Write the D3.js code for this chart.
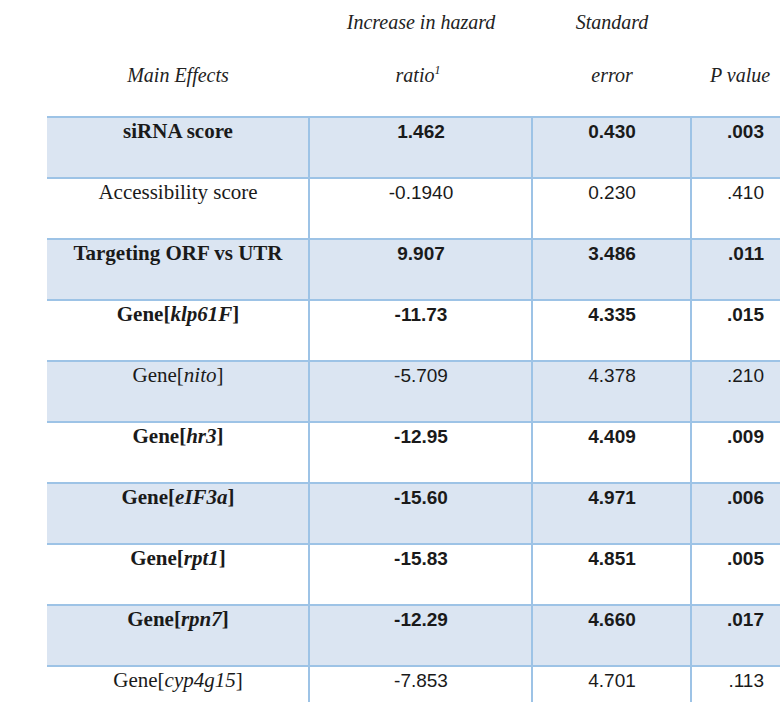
<!DOCTYPE html>
<html>
<head>
  <meta charset='utf-8'>
  <script src='https://cdn.jsdelivr.net/npm/d3@7/dist/d3.min.js'></script>
  <style>
    body { margin: 0; background: #fff; }
  </style>
</head>
<body>
  <div id='table'></div>
  <script>
    // row labels: [plain prefix, italic gene, closing]
    var effects = [
      ['siRNA score', '', ''],
      ['Accessibility score', '', ''],
      ['Targeting ORF vs UTR', '', ''],
      ['Gene[', 'klp61F', ']'],
      ['Gene[', 'nito', ']'],
      ['Gene[', 'hr3', ']'],
      ['Gene[', 'eIF3a', ']'],
      ['Gene[', 'rpt1', ']'],
      ['Gene[', 'rpn7', ']'],
      ['Gene[', 'cyp4g15', ']']
    ];
    var hazard = ['1.462', '-0.1940', '9.907', '-11.73', '-5.709', '-12.95', '-15.60', '-15.83', '-12.29', '-7.853'];
    var stdErr = ['0.430', '0.230', '3.486', '4.335', '4.378', '4.409', '4.971', '4.851', '4.660', '4.701'];
    var pValue = ['.003', '.410', '.011', '.015', '.210', '.009', '.006', '.005', '.017', '.113'];
    var significant = [true, false, true, true, false, true, true, true, true, false];

    var width = 780, height = 711;
    var svg = d3.select('#table').append('svg')
      .attr('width', width).attr('height', height);

    var y = d3.scaleBand().domain(d3.range(effects.length)).range([117, 727]);
    var left = 47, right = 780;
    var cols = [left, 309, 532, 691, right];
    var blue = '#9dc3e6', shade = '#dbe5f2';
    var serif = 'Liberation Serif, Times New Roman, serif';
    var sans = 'Liberation Sans, Arial, sans-serif';

    // shaded rows
    svg.selectAll('rect.row').data(effects).enter().append('rect')
      .attr('x', left).attr('y', function(d, i) { return y(i); })
      .attr('width', right - left).attr('height', y.bandwidth())
      .attr('fill', function(d, i) { return i % 2 === 0 ? shade : '#fff'; });

    // grid lines
    svg.selectAll('line.h').data(d3.range(effects.length)).enter().append('line')
      .attr('x1', left).attr('x2', right)
      .attr('y1', function(i) { return y(i); }).attr('y2', function(i) { return y(i); })
      .attr('stroke', blue).attr('stroke-width', 2);
    svg.selectAll('line.v').data(cols.slice(1, 4)).enter().append('line')
      .attr('x1', function(d) { return d; }).attr('x2', function(d) { return d; })
      .attr('y1', 117).attr('y2', 702)
      .attr('stroke', blue).attr('stroke-width', 2);

    // header
    var hdr = svg.append('g').attr('font-family', serif).attr('font-style', 'italic')
      .attr('font-size', 20).attr('fill', '#222').attr('text-anchor', 'middle');
    hdr.append('text').attr('x', 178).attr('y', 82).text('Main Effects');
    hdr.append('text').attr('x', 421).attr('y', 29).text('Increase in hazard');
    var r = hdr.append('text').attr('x', 418).attr('y', 82).text('ratio');
    r.append('tspan').attr('font-size', 12).attr('dy', -8).text('1');
    hdr.append('text').attr('x', 612).attr('y', 29).text('Standard');
    hdr.append('text').attr('x', 612).attr('y', 82).text('error');
    hdr.append('text').attr('x', 740).attr('y', 82).text('P value');

    var rows = svg.selectAll('g.r').data(effects).enter().append('g')
      .attr('transform', function(d, i) { return 'translate(0,' + (y(i) + 21) + ')'; })
      .attr('font-weight', function(d, i) { return significant[i] ? 'bold' : 'normal'; })
      .attr('fill', '#1a1a1a');

    var lab = rows.append('text').attr('x', 178).attr('text-anchor', 'middle')
      .attr('font-family', serif).attr('font-size', 21);
    lab.append('tspan').text(function(d) { return d[0]; });
    lab.append('tspan').attr('font-style', 'italic').text(function(d) { return d[1]; });
    lab.append('tspan').text(function(d) { return d[2]; });

    rows.append('text').attr('x', 421).attr('text-anchor', 'middle')
      .attr('font-family', sans).attr('font-size', 19)
      .text(function(d, i) { return hazard[i]; });
    rows.append('text').attr('x', 612).attr('text-anchor', 'middle')
      .attr('font-family', sans).attr('font-size', 19)
      .text(function(d, i) { return stdErr[i]; });
    rows.append('text').attr('x', 764).attr('text-anchor', 'end')
      .attr('font-family', sans).attr('font-size', 19)
      .text(function(d, i) { return pValue[i]; });
  </script>
</body>
</html>
